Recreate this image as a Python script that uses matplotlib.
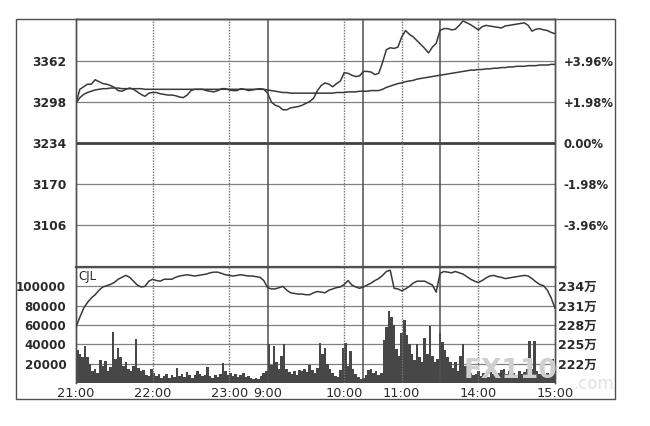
import numpy as np
import matplotlib
matplotlib.use("Agg")
import matplotlib.pyplot as plt
from matplotlib.patches import Rectangle

# ---------------- data ----------------
# price and average price, one value every 3 trading minutes from 21:00
price = [3296, 3318, 3322, 3326, 3326, 3333, 3330, 3327, 3326, 3324,
         3321, 3316, 3315, 3318, 3320, 3318, 3314, 3310, 3307, 3312,
         3313, 3313, 3311, 3310, 3309, 3309, 3308, 3306, 3305, 3309,
         3316, 3318, 3318, 3318, 3316, 3315, 3314, 3316, 3319, 3319,
         3317, 3316, 3316, 3319, 3318, 3316, 3317, 3318, 3319, 3318,
         3312, 3298, 3293, 3291, 3286, 3286, 3289, 3290, 3291, 3293,
         3296, 3299, 3304, 3316, 3324, 3328, 3326, 3322, 3327, 3331,
         3344, 3343, 3340, 3338, 3339, 3346, 3346, 3345, 3341, 3343,
         3360, 3380, 3383, 3382, 3384, 3400, 3410, 3404, 3400, 3394,
         3388, 3382, 3375, 3384, 3390, 3410, 3413, 3413, 3411, 3412,
         3418, 3425, 3422, 3419, 3415, 3411, 3416, 3418, 3417, 3416,
         3415, 3414, 3417, 3418, 3419, 3420, 3421, 3422, 3418, 3409,
         3412, 3413, 3411, 3410, 3407, 3405]

avg_price = [3296, 3305, 3310, 3313, 3315, 3317, 3318, 3319, 3319, 3320,
             3320, 3320, 3319, 3319, 3319, 3319, 3319, 3319, 3318, 3318,
             3318, 3318, 3318, 3318, 3318, 3318, 3318, 3318, 3318, 3318,
             3318, 3318, 3318, 3318, 3318, 3318, 3318, 3318, 3318, 3318,
             3318, 3318, 3318, 3318, 3318, 3318, 3318, 3318, 3318, 3318,
             3317, 3316, 3315, 3314, 3313, 3313, 3312, 3312, 3312, 3312,
             3312, 3312, 3312, 3312, 3312, 3312, 3312, 3312, 3313, 3313,
             3313, 3314, 3314, 3314, 3315, 3315, 3315, 3316, 3316, 3316,
             3318, 3321, 3323, 3325, 3327, 3328, 3330, 3331, 3332, 3334,
             3335, 3336, 3337, 3338, 3339, 3340, 3341, 3342, 3343, 3344,
             3345, 3346, 3347, 3348, 3348, 3349, 3349, 3350, 3350, 3351,
             3351, 3352, 3352, 3353, 3353, 3354, 3354, 3354, 3355, 3355,
             3355, 3356, 3356, 3356, 3357, 3357]

# open interest (万), every 3 minutes
open_interest = [227.7, 229.2, 230.6, 231.5, 232.2, 232.7, 233.4, 233.9, 234.1, 234.3,
                 234.6, 235.1, 235.4, 235.7, 235.4, 234.8, 234.2, 233.9, 234.0, 234.8,
                 235.1, 234.9, 234.8, 235.1, 235.1, 235.1, 235.4, 235.6, 235.7, 235.8,
                 235.7, 235.6, 235.7, 235.8, 235.9, 236.1, 236.2, 236.2, 236.0, 235.8,
                 235.7, 235.6, 235.7, 235.8, 235.7, 235.6, 235.6, 235.5, 235.4, 234.9,
                 233.8, 233.6, 233.6, 233.8, 234.0, 233.4, 233.0, 232.9, 232.8, 232.8,
                 232.7, 232.7, 233.0, 233.2, 233.1, 233.0, 233.4, 233.6, 233.8, 233.9,
                 234.3, 234.9, 234.2, 233.9, 233.7, 233.9, 234.2, 234.5, 234.9, 235.2,
                 235.7, 236.3, 236.5, 233.7, 233.6, 233.3, 233.6, 234.0, 234.5, 234.8,
                 234.8, 234.8, 234.5, 234.2, 233.1, 236.0, 236.3, 236.2, 236.1, 236.3,
                 236.1, 235.9, 235.5, 235.1, 234.8, 234.6, 234.9, 235.3, 235.6, 235.7,
                 235.5, 235.4, 235.2, 235.3, 235.4, 235.5, 235.6, 235.7, 235.6, 235.2,
                 234.7, 234.3, 234.1, 233.4, 232.2, 230.6]

# traded volume (thousand lots), every 2 minutes
volume_k = [34, 30, 27, 38, 27, 20, 12, 15, 10, 24,
            18, 23, 12, 17, 53, 25, 36, 27, 18, 22,
            15, 12, 18, 46, 16, 12, 13, 8, 7, 15,
            10, 7, 9, 5, 7, 9, 5, 8, 6, 16,
            7, 9, 6, 11, 8, 5, 8, 12, 9, 7,
            8, 17, 7, 5, 8, 6, 9, 21, 12, 8,
            10, 7, 9, 6, 8, 10, 6, 7, 5, 4,
            5, 4, 7, 10, 12, 40, 19, 38, 22, 15,
            28, 40, 15, 11, 9, 12, 8, 13, 12, 15,
            11, 19, 13, 10, 16, 41, 30, 36, 20, 14,
            10, 7, 6, 13, 36, 41, 18, 33, 14, 9,
            6, 4, 5, 8, 13, 15, 10, 12, 8, 10,
            44, 58, 75, 68, 60, 35, 28, 52, 65, 50,
            40, 30, 24, 40, 27, 22, 47, 30, 59, 28,
            22, 25, 52, 42, 34, 27, 22, 16, 22, 12,
            28, 40, 18, 12, 10, 8, 9, 12, 7, 10,
            8, 6, 11, 9, 7, 10, 13, 14, 9, 12,
            13, 10, 8, 12, 9, 11, 14, 43, 15, 43,
            12, 9, 11, 8, 10, 7, 25, 20]

prev_close = 3234
price_ticks = [3362, 3298, 3234, 3170, 3106]
pct_labels = ["+3.96%", "+1.98%", "0.00%", "-1.98%", "-3.96%"]
vol_ticks = [100000, 80000, 60000, 40000, 20000]
oi_ticks = [234, 231, 228, 225, 222]
time_ticks = [0, 60, 120, 150, 210, 255, 315, 375]
time_labels = ["21:00", "22:00", "23:00", "9:00", "10:00", "11:00", "14:00", "15:00"]
session_breaks = [150, 225, 285]
dotted_times = [60, 120, 210, 255, 315]
total_minutes = 375

# ---------------- figure ----------------
W, H = 650, 426
fig = plt.figure(figsize=(W / 100, H / 100), dpi=100)
fig.patch.set_facecolor("white")

LINE = "#3a3a3a"
GRID = "#808080"
TXT = "#2a2a2a"

def fx(px):
    return px / W

def fy(py):
    return 1 - py / H

left, right = 76, 555
ax_p = fig.add_axes([fx(left), fy(267), fx(right - left), (267 - 19) / H])
ax_v = fig.add_axes([fx(left), fy(383), fx(right - left), (383 - 267) / H])

t3 = np.arange(len(price)) * 3
t2 = np.arange(len(volume_k)) * 2

# --- price panel ---
half = 194
ax_p.set_xlim(0, total_minutes)
ax_p.set_ylim(prev_close - half, prev_close + half)
for v in price_ticks:
    if v == prev_close:
        ax_p.axhline(v, color="#404040", lw=2.0, zorder=1)
    else:
        ax_p.axhline(v, color=GRID, lw=0.9, zorder=1)
ax_p.plot(t3, avg_price, color=LINE, lw=1.1, zorder=3)
ax_p.plot(t3, price, color=LINE, lw=1.1, zorder=4)
ax_p.set_yticks(price_ticks)
ax_p.set_yticklabels([str(v) for v in price_ticks], fontsize=8.8,
                     fontweight="bold", color=TXT)
ax_p.tick_params(axis="y", length=0, pad=7)
ax_p.set_xticks([])
axr = ax_p.twinx()
axr.set_ylim(ax_p.get_ylim())
axr.set_yticks(price_ticks)
axr.set_yticklabels(pct_labels, fontsize=8.4, fontweight="bold", color=TXT)
axr.tick_params(axis="y", length=0, pad=6)

# --- volume panel ---
ax_v.set_xlim(0, total_minutes)
ax_v.set_ylim(0, 120000)
for v in vol_ticks:
    ax_v.axhline(v, color=GRID, lw=0.9, zorder=1)
ax_v.bar(t2, np.array(volume_k) * 1000, width=2, align="edge",
         color="#474747", edgecolor="none", zorder=2)
ax_v.set_yticks(vol_ticks)
ax_v.set_yticklabels([str(v) for v in vol_ticks], fontsize=8.6,
                     fontweight="bold", color=TXT)
ax_v.tick_params(axis="y", length=0, pad=7)
ax_v.set_xticks(time_ticks)
ax_v.set_xticklabels(time_labels, fontsize=9.3, color=TXT)
ax_v.tick_params(axis="x", length=0, pad=3)
ax_v.text(0.006, 0.97, "CJL", transform=ax_v.transAxes, fontsize=8.5,
          color=TXT, va="top", ha="left", zorder=6)

ax_oi = ax_v.twinx()
ax_oi.set_ylim(219, 237)
ax_oi.plot(t3, open_interest, color=LINE, lw=1.1, zorder=4)
ax_oi.set_yticks(oi_ticks)
ax_oi.set_yticklabels([f"{v}万" for v in oi_ticks], fontsize=9,
                      fontweight="bold", color=TXT,
                      family=["DejaVu Sans", "Noto Sans CJK SC"])
ax_oi.tick_params(axis="y", length=0, pad=2)

# vertical session lines and dotted hour lines
for ax in (ax_p, ax_v):
    for t in session_breaks:
        ax.axvline(t, color="#505050", lw=1.1, zorder=2.5)
    for t in dotted_times:
        ax.axvline(t, color="#707070", lw=1.0, ls=(0, (1, 1)), zorder=2.5)

for ax in (ax_p, axr, ax_v, ax_oi):
    for s in ax.spines.values():
        s.set_color("#505050")
        s.set_linewidth(1.0)
ax_p.spines["bottom"].set_visible(False)
axr.spines["bottom"].set_visible(False)
ax_v.spines["top"].set_linewidth(1.6)
ax_v.spines["bottom"].set_visible(False)
ax_oi.spines["bottom"].set_visible(False)

# outer frame
fig.add_artist(Rectangle((fx(16), fy(399)), fx(615 - 16), (399 - 19) / H,
                         transform=fig.transFigure, fill=False,
                         edgecolor="#505050", lw=1.0))

# watermark
fig.text(fx(510), fy(371), "FX110", fontsize=19, fontweight="bold",
         color="#cfcfcf", ha="center", va="center", zorder=10)
fig.text(fx(594), fy(384), ".com", fontsize=12, color="#e2e2e2",
         ha="center", va="center", zorder=10)

fig.savefig("out.png", dpi=100, facecolor="white")
